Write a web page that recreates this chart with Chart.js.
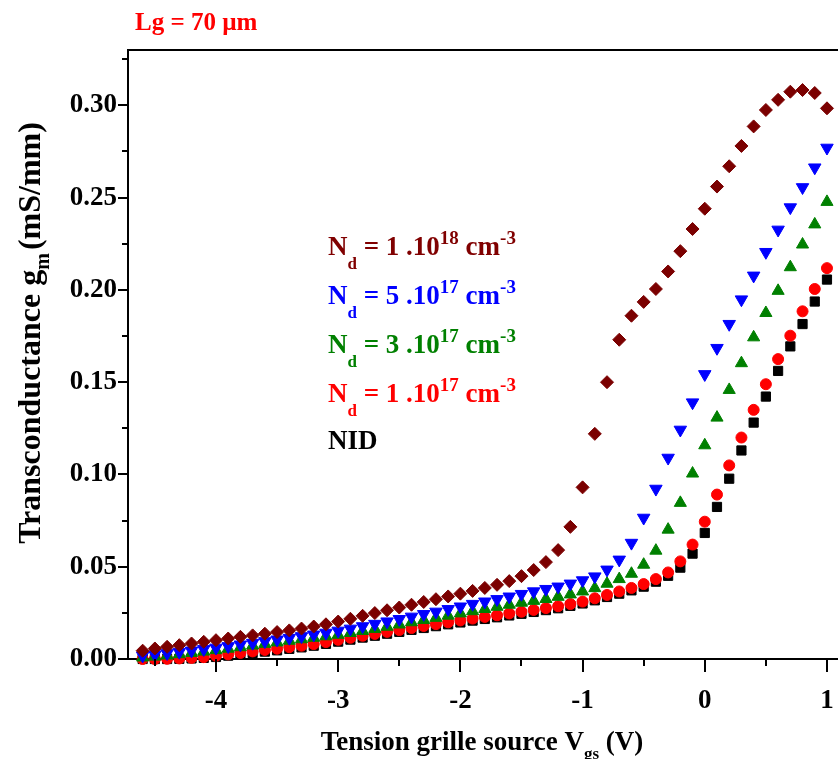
<!DOCTYPE html>
<html>
<head>
<meta charset="utf-8">
<script src="https://cdn.jsdelivr.net/npm/chart.js@4.4.1/dist/chart.umd.min.js"></script>
<style>
  html, body { margin: 0; padding: 0; overflow: hidden; background: #fff; }
  canvas { display: block; }
</style>
</head>
<body>
<canvas id="c" width="860" height="759" style="width:860px;height:759px"></canvas>
<script>
// Gate-source voltage sweep (V)
const vgs = [
  -4.6, -4.5, -4.4, -4.3, -4.2, -4.1, -4.0, -3.9, -3.8, -3.7,
  -3.6, -3.5, -3.4, -3.3, -3.2, -3.1, -3.0, -2.9, -2.8, -2.7,
  -2.6, -2.5, -2.4, -2.3, -2.2, -2.1, -2.0, -1.9, -1.8, -1.7,
  -1.6, -1.5, -1.4, -1.3, -1.2, -1.1, -1.0, -0.9, -0.8, -0.7,
  -0.6, -0.5, -0.4, -0.3, -0.2, -0.1, 0.0, 0.1, 0.2, 0.3,
  0.4, 0.5, 0.6, 0.7, 0.8, 0.9, 1.0
];

// Transconductance gm (mS/mm) for each doping level
const gmNd1e18 = [
  0.0045, 0.0057, 0.0066, 0.0075, 0.0084, 0.0093, 0.0102, 0.0111, 0.0120, 0.0128,
  0.0137, 0.0146, 0.0155, 0.0165, 0.0176, 0.0188, 0.0203, 0.0218, 0.0234, 0.0249,
  0.0264, 0.0279, 0.0294, 0.0309, 0.0324, 0.0339, 0.0354, 0.0369, 0.0385, 0.0402,
  0.0422, 0.0449, 0.0482, 0.0525, 0.0590, 0.0716, 0.0930, 0.1220, 0.1500, 0.1730,
  0.1860, 0.1935, 0.2005, 0.2100, 0.2210, 0.2330, 0.2440, 0.2560, 0.2670, 0.2780,
  0.2886, 0.2975, 0.3030, 0.3074, 0.3083, 0.3067, 0.2984
];
const gmNd5e17 = [
  0.0018, 0.0024, 0.0031, 0.0038, 0.0045, 0.0053, 0.0061, 0.0069, 0.0078, 0.0087,
  0.0096, 0.0105, 0.0114, 0.0123, 0.0132, 0.0142, 0.0153, 0.0164, 0.0177, 0.0190,
  0.0203, 0.0216, 0.0229, 0.0243, 0.0256, 0.0270, 0.0284, 0.0298, 0.0311, 0.0324,
  0.0338, 0.0352, 0.0366, 0.0379, 0.0392, 0.0408, 0.0426, 0.0447, 0.0484, 0.0538,
  0.0629, 0.0765, 0.0922, 0.1090, 0.1242, 0.1390, 0.1543, 0.1685, 0.1815, 0.1948,
  0.2077, 0.2205, 0.2326, 0.2447, 0.2556, 0.2663, 0.2770
];
const gmNd3e17 = [
  0.0008, 0.0013, 0.0019, 0.0026, 0.0033, 0.0040, 0.0048, 0.0056, 0.0064, 0.0073,
  0.0082, 0.0090, 0.0099, 0.0107, 0.0115, 0.0123, 0.0131, 0.0141, 0.0152, 0.0163,
  0.0175, 0.0187, 0.0199, 0.0211, 0.0223, 0.0235, 0.0247, 0.0259, 0.0271, 0.0283,
  0.0294, 0.0305, 0.0315, 0.0325, 0.0337, 0.0350, 0.0366, 0.0384, 0.0408, 0.0433,
  0.0462, 0.0511, 0.0587, 0.0701, 0.0846, 0.1005, 0.1158, 0.1308, 0.1458, 0.1603,
  0.1743, 0.1875, 0.1995, 0.2123, 0.2246, 0.2355, 0.2477
];
const gmNd1e17 = [
  0.0000, 0.0000, 0.0001, 0.0003, 0.0006, 0.0010, 0.0017, 0.0025, 0.0033, 0.0041,
  0.0049, 0.0056, 0.0064, 0.0072, 0.0081, 0.0092, 0.0104, 0.0115, 0.0126, 0.0136,
  0.0147, 0.0157, 0.0168, 0.0179, 0.0189, 0.0199, 0.0209, 0.0219, 0.0228, 0.0237,
  0.0247, 0.0256, 0.0266, 0.0276, 0.0286, 0.0298, 0.0311, 0.0329, 0.0347, 0.0366,
  0.0385, 0.0406, 0.0433, 0.0469, 0.0529, 0.0620, 0.0744, 0.0891, 0.1049, 0.1200,
  0.1350, 0.1489, 0.1625, 0.1752, 0.1884, 0.2005, 0.2118
];
const gmNid = [
  0.0000, 0.0000, 0.0000, 0.0001, 0.0003, 0.0006, 0.0011, 0.0018, 0.0025, 0.0033,
  0.0040, 0.0047, 0.0055, 0.0063, 0.0072, 0.0082, 0.0094, 0.0105, 0.0116, 0.0126,
  0.0137, 0.0147, 0.0158, 0.0168, 0.0178, 0.0188, 0.0198, 0.0208, 0.0217, 0.0226,
  0.0236, 0.0245, 0.0255, 0.0265, 0.0275, 0.0288, 0.0301, 0.0318, 0.0336, 0.0354,
  0.0372, 0.0392, 0.0419, 0.0451, 0.0495, 0.0571, 0.0683, 0.0824, 0.0977, 0.1130,
  0.1281, 0.1422, 0.1561, 0.1694, 0.1815, 0.1937, 0.2056
];

// Axis ticks
const xMajorTicks = [-4, -3, -2, -1, 0, 1];
const xMinorTicks = [-4.5, -3.5, -2.5, -1.5, -0.5, 0.5];
const yMajorTicks = [0.00, 0.05, 0.10, 0.15, 0.20, 0.25, 0.30];
const yMinorTicks = [0.025, 0.075, 0.125, 0.175, 0.225, 0.275, 0.325];

// Text blocks (rich segments: text, font size, vertical shift)
const titleText = [{ t: 'Lg = 70 \u00b5m', size: 25 }];
const yTitle = [
  { t: 'Transconductance g', size: 32 },
  { t: 'm', size: 20, dy: 9 },
  { t: '(mS/mm)', size: 32, dx: 3 }
];
const xTitle = [
  { t: 'Tension grille source V', size: 27 },
  { t: 'gs', size: 17, dy: 9 },
  { t: ' (V)', size: 27 }
];
const legendLines = [
  { color: '#800000', segs: [{ t: 'N', size: 27 }, { t: 'd', size: 17, dy: 14 }, { t: ' = 1 .10', size: 27 }, { t: '18', size: 19, dy: -11 }, { t: ' cm', size: 27 }, { t: '-3', size: 19, dy: -11 }] },
  { color: '#0000ff', segs: [{ t: 'N', size: 27 }, { t: 'd', size: 17, dy: 14 }, { t: ' = 5 .10', size: 27 }, { t: '17', size: 19, dy: -11 }, { t: ' cm', size: 27 }, { t: '-3', size: 19, dy: -11 }] },
  { color: '#008000', segs: [{ t: 'N', size: 27 }, { t: 'd', size: 17, dy: 14 }, { t: ' = 3 .10', size: 27 }, { t: '17', size: 19, dy: -11 }, { t: ' cm', size: 27 }, { t: '-3', size: 19, dy: -11 }] },
  { color: '#ff0000', segs: [{ t: 'N', size: 27 }, { t: 'd', size: 17, dy: 14 }, { t: ' = 1 .10', size: 27 }, { t: '17', size: 19, dy: -11 }, { t: ' cm', size: 27 }, { t: '-3', size: 19, dy: -11 }] },
  { color: '#000000', segs: [{ t: 'NID', size: 27 }] }
];

const SERIF = '"Liberation Serif", "Times New Roman", serif';
function boldFont(size) { return 'bold ' + size + 'px ' + SERIF; }

function richWidth(ctx, segs) {
  let w = 0;
  for (const s of segs) { ctx.font = boldFont(s.size); w += ctx.measureText(s.t).width + (s.dx || 0); }
  return w;
}
function drawRich(ctx, x, y, segs, color) {
  ctx.fillStyle = color;
  ctx.textAlign = 'left';
  ctx.textBaseline = 'alphabetic';
  for (const s of segs) {
    ctx.font = boldFont(s.size);
    x += (s.dx || 0);
    ctx.fillText(s.t, x, y + (s.dy || 0));
    x += ctx.measureText(s.t).width;
  }
}

const pts = arr => vgs.map((v, i) => ({ x: v, y: arr[i] }));

// Frame, tick marks, titles and annotation text
const decorations = {
  id: 'decorations',
  afterDraw(chart) {
    const ctx = chart.ctx;
    const area = chart.chartArea;
    const xs = chart.scales.x, ys = chart.scales.y;
    ctx.save();
    ctx.strokeStyle = '#000';
    ctx.lineWidth = 2;
    ctx.beginPath();
    ctx.moveTo(area.left - 1, area.top);
    ctx.lineTo(area.right, area.top);
    ctx.moveTo(area.right, area.top);
    ctx.lineTo(area.right, area.bottom);
    for (const v of yMajorTicks) { const p = Math.round(ys.getPixelForValue(v)); ctx.moveTo(area.left, p); ctx.lineTo(area.left - 10, p); }
    for (const v of yMinorTicks) { const p = Math.round(ys.getPixelForValue(v)); ctx.moveTo(area.left, p); ctx.lineTo(area.left - 6, p); }
    for (const v of xMajorTicks) { const p = Math.round(xs.getPixelForValue(v)); ctx.moveTo(p, area.bottom); ctx.lineTo(p, area.bottom + 13); }
    for (const v of xMinorTicks) { const p = Math.round(xs.getPixelForValue(v)); ctx.moveTo(p, area.bottom); ctx.lineTo(p, area.bottom + 7); }
    ctx.stroke();

    drawRich(ctx, 135, 30, titleText, '#ff0000');

    const xw = richWidth(ctx, xTitle);
    drawRich(ctx, 482 - xw / 2, 750, xTitle, '#000');

    const yw = richWidth(ctx, yTitle);
    ctx.translate(40, 333 + yw / 2);
    ctx.rotate(-Math.PI / 2);
    drawRich(ctx, 0, 0, yTitle, '#000');
    ctx.setTransform(1, 0, 0, 1, 0, 0);

    const baselines = [255, 304, 353, 402, 449];
    legendLines.forEach((line, i) => drawRich(ctx, 328, baselines[i], line.segs, line.color));
    ctx.restore();
  }
};

const tickFont = { family: SERIF, size: 27, weight: 'bold' };

new Chart(document.getElementById('c'), {
  type: 'scatter',
  data: {
    datasets: [
      { label: 'Nd = 1e18', data: pts(gmNd1e18), pointStyle: 'rectRot', pointRadius: 6.5, backgroundColor: '#7b0000', borderColor: '#7b0000', borderWidth: 1, clip: false },
      { label: 'Nd = 5e17', data: pts(gmNd5e17), pointStyle: 'triangle', rotation: 180, pointRadius: 7.2, backgroundColor: '#0000ff', borderColor: '#0000ff', borderWidth: 1, clip: false },
      { label: 'Nd = 3e17', data: pts(gmNd3e17), pointStyle: 'triangle', pointRadius: 7, backgroundColor: '#008000', borderColor: '#008000', borderWidth: 1, clip: false },
      { label: 'Nd = 1e17', data: pts(gmNd1e17), pointStyle: 'circle', pointRadius: 5.5, backgroundColor: '#ff0000', borderColor: '#ff0000', borderWidth: 1, clip: false },
      { label: 'NID', data: pts(gmNid), pointStyle: 'rect', pointRadius: 6.5, backgroundColor: '#000000', borderColor: '#000000', borderWidth: 1, clip: false }
    ]
  },
  options: {
    responsive: false,
    animation: false,
    events: [],
    layout: { padding: { top: 50, right: 16, bottom: 0, left: 0 } },
    plugins: { legend: { display: false }, tooltip: { enabled: false }, title: { display: false } },
    scales: {
      x: {
        type: 'linear', min: -4.72, max: 1.1,
        grid: { display: false, drawTicks: false },
        border: { display: true, color: '#000', width: 2 },
        afterBuildTicks: s => { s.ticks = xMajorTicks.map(v => ({ value: v })); },
        afterFit: s => { s.height = 100; },
        ticks: { color: '#000', font: tickFont, padding: 26, maxRotation: 0, autoSkip: false, callback: v => String(v) }
      },
      y: {
        type: 'linear', min: 0, max: 0.33,
        grid: { display: false, drawTicks: false },
        border: { display: true, color: '#000', width: 2 },
        afterBuildTicks: s => { s.ticks = yMajorTicks.map(v => ({ value: v })); },
        afterFit: s => { s.width = 128; },
        ticks: { color: '#000', font: tickFont, padding: 11, autoSkip: false, callback: v => Number(v).toFixed(2) }
      }
    }
  },
  plugins: [decorations]
});
</script>
</body>
</html>
